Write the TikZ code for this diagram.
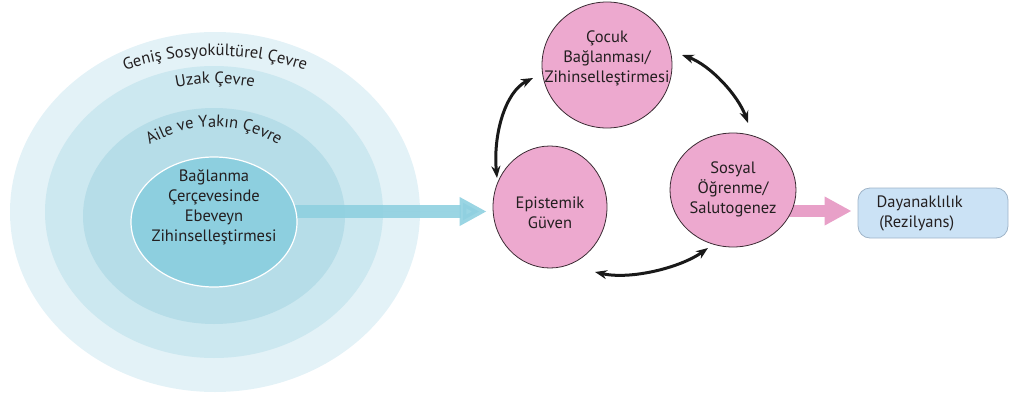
\documentclass[tikz,border=0pt]{standalone}
\usepackage{fontspec}
\setmainfont{PT Sans}
\usetikzlibrary{arrows.meta,shapes.geometric,decorations.text,calc}
\definecolor{ringA}{HTML}{E3F2F7}
\definecolor{ringB}{HTML}{CCE8F0}
\definecolor{ringC}{HTML}{B6DDE8}
\definecolor{innerf}{HTML}{8DCFDF}
\definecolor{bluearr}{HTML}{8FD0E0}
\definecolor{pinkf}{HTML}{EDA9CF}
\definecolor{pinkd}{HTML}{3A2A32}
\definecolor{pinkarr}{HTML}{E8A0C8}
\definecolor{boxf}{HTML}{CBE2F5}
\definecolor{boxd}{HTML}{9FB4C8}
\definecolor{txt}{HTML}{231F20}
\pgfdeclarelayer{bg}
\pgfdeclarelayer{mid}
\pgfsetlayers{bg,mid,main}
\newcommand{\dfont}{\fontsize{16.5}{20}\selectfont}
\begin{document}
\begin{tikzpicture}[x=1pt,y=-1pt,
  every node/.style={font=\dfont, text=txt},
  ring/.style={ellipse, inner sep=0pt, draw=none},
  pinkc/.style={ellipse, fill=pinkf, draw=pinkd, line width=0.8pt, inner sep=0pt},
  lbl/.style={align=center, inner sep=0pt},
  cyc/.style={line width=3pt, draw=black!90, {Stealth[length=12pt,width=9pt]}-{Stealth[length=12pt,width=9pt]}},
  fat/.style={-{Triangle[length=27pt,width=27pt]}},
  curvlbl/.style={decorate, decoration={text along path, text align=center}}
]
\useasboundingbox (0,0) rectangle (1010,394);

% concentric rings
\begin{pgfonlayer}{bg}
\node[ring, fill=ringA, minimum width=410pt, minimum height=360pt] (r1) at (215,212) {};
\node[ring, fill=ringB, minimum width=338pt, minimum height=292pt] (r2) at (214,212) {};
\node[ring, fill=ringC, minimum width=262pt, minimum height=216pt] (r3) at (214,216) {};
\end{pgfonlayer}

\node[ellipse, fill=innerf, draw=white, line width=1.2pt, minimum width=166pt, minimum height=130pt, inner sep=0pt] (inner) at (214,222) {};
\node[lbl] (innerlbl) at (214,207) {Bağlanma\\Çerçevesinde\\Ebeveyn\\Zihinselleştirmesi};

% ring labels along arcs
\path[curvlbl, decoration={text={|\dfont\color{txt}|Geniş Sosyokültürel Çevre}}]
  (85,88) .. controls (160,45) and (270,45) .. (345,88);
\path[curvlbl, decoration={text={|\dfont\color{txt}|Uzak Çevre}}]
  (140,100) .. controls (180,78) and (250,78) .. (290,100);
\path[curvlbl, decoration={text={|\dfont\color{txt}|Aile ve Yakın Çevre}}]
  (132,158.8) .. controls (174.8,116.4) and (253.2,116.4) .. (296,158.8);

% cycle nodes
\node[pinkc, minimum width=130pt, minimum height=126pt] (coc) at (607,65) {};
\node[lbl] (cocl) at (607,58) {Çocuk\\Bağlanması/\\Zihinselleştirmesi};
\node[pinkc, minimum width=114pt, minimum height=122pt] (epi) at (550,207) {};
\node[lbl] (epil) at (550,213) {Epistemik\\Güven};
\node[pinkc, minimum width=126pt, minimum height=114pt] (sos) at (733,190) {};
\node[lbl] (sosl) at (733,189) {Sosyal\\Öğrenme/\\Salutogenez};

% outcome box
\node[rounded corners=12pt, fill=boxf, draw=boxd, line width=0.8pt, minimum width=150pt, minimum height=50pt, inner sep=0pt] (res) at (933,213) {};
\node[align=left, anchor=west] (resl) at (873,213) {Dayanaklılık\\\,(Rezilyans)};

% broad arrows
\coordinate (bl) at (0,211.5);
\coordinate (pl) at (0,211);
\begin{pgfonlayer}{mid}
\draw[fat, line width=13pt, draw=bluearr, fill=bluearr, opacity=0.9, shorten >=6pt] (inner.center |- bl) -- (epi.west |- bl);
\draw[fat, line width=12pt, draw=pinkarr, fill=pinkarr, shorten >=6pt] (sos.center |- pl) -- (res.west |- pl);
\end{pgfonlayer}

% cycle arrows
\path (coc.center) ++(-74,13) coordinate (a1s);
\path (epi.center) ++(-53,-29) coordinate (a1e);
\path (coc.center) ++(75,-10) coordinate (a2s);
\path (sos.center) ++(15,-67) coordinate (a2e);
\path (sos.center) ++(-25,58) coordinate (a3s);
\path (epi.center) ++(45,65) coordinate (a3e);
\draw[cyc] (a1s) .. controls +(-28,14) and +(-4,-43) .. (a1e);
\draw[cyc] (a2s) .. controls +(28,10) and +(-10,-28) .. (a2e);
\draw[cyc] (a3s) .. controls +(-28,20) and +(35,8) .. (a3e);
\end{tikzpicture}
\end{document}
